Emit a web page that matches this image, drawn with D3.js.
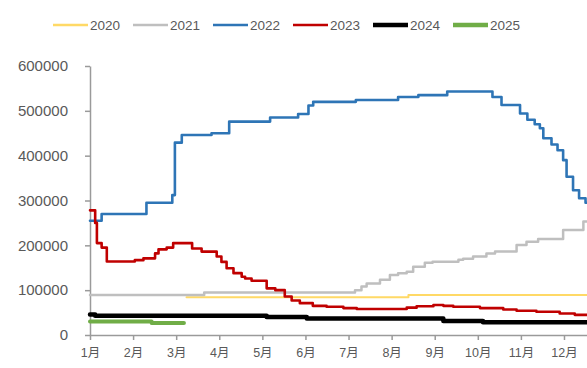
<!DOCTYPE html>
<html>
<head>
<meta charset="utf-8">
<script src="https://cdn.jsdelivr.net/npm/d3@7"></script>
<style>
  html, body { margin: 0; padding: 0; background: #fff; }
  svg { display: block; }
  text { font-family: "Liberation Sans", Arial, "Noto Sans CJK SC", sans-serif; }
</style>
</head>
<body>
<svg id="chart" width="587" height="368"></svg>
<script>
// ---- data (month index 0 = 1月, value) ----
const years = ["2020", "2021", "2022", "2023", "2024", "2025"];
const monthLabels = ["1月","2月","3月","4月","5月","6月","7月","8月","9月","10月","11月","12月"];
const yTicks = [0, 100000, 200000, 300000, 400000, 500000, 600000];

const s2020 = [[2.24,84000],[7.39,89000],[11.7,89000]];
const s2021 = [[0,89000],[2.65,95000],[6.15,100000],[6.3,108000],[6.42,115000],[6.73,123000],[6.96,134000],
  [7.15,138000],[7.35,141000],[7.5,152000],[7.77,161000],[7.95,163500],[8.55,168000],[8.66,170000],
  [8.89,175000],[9.2,182000],[9.4,186000],[9.9,201000],[10.13,208000],[10.4,214000],[10.98,234000],
  [11.45,253000],[11.7,253000]];
const s2022 = [[0,255000],[0.27,270000],[1.31,295000],[1.91,312000],[1.97,429000],[2.13,446000],[2.82,450000],
  [3.23,476000],[4.18,485000],[4.83,493000],[5.07,512000],[5.18,520000],[6.17,524000],[7.15,531000],
  [7.62,535000],[8.29,543000],[9.34,531000],[9.55,513000],[9.98,494000],[10.15,480000],[10.32,470000],
  [10.44,461000],[10.52,439000],[10.71,425000],[10.85,412000],[10.98,390000],[11.06,353000],[11.21,323000],
  [11.35,305000],[11.5,295000],[11.7,290000]];
const s2023 = [[0,278000],[0.12,250000],[0.16,205000],[0.27,195000],[0.39,164000],[1.04,167000],[1.24,171000],
  [1.51,182000],[1.59,191000],[1.78,195000],[1.93,205000],[2.37,193000],[2.59,186000],[2.94,175000],
  [3.05,163000],[3.17,149000],[3.33,138000],[3.52,130000],[3.6,126000],[3.75,121000],[4.1,104000],
  [4.3,100000],[4.52,86000],[4.68,77000],[4.87,71000],[5.17,65000],[5.49,63000],[5.88,60000],[6.19,58000],
  [7.35,61000],[7.58,64000],[7.97,67000],[8.2,65000],[8.43,63000],[9.05,60000],[9.59,57000],[9.9,54000],
  [10.36,52000],[10.9,48000],[11.25,45000],[11.7,43000]];
const s2024 = [[0,46000],[0.12,43000],[4.1,40000],[5.03,37000],[8.2,31000],[9.12,28500],[11.7,28500]];
const s2025 = [[0,30000],[1.43,26500],[2.18,26500]];

const seriesData = [s2020, s2021, s2022, s2023, s2024, s2025];
const colors = ["#FFD966", "#BFBFBF", "#2E75B6", "#C00000", "#000000", "#70AD47"];
const widths = [2, 2.5, 2.6, 2.6, 4.5, 4];

// ---- chart ----
const svg = d3.select("#chart");
const x = d3.scaleLinear().domain([0, 12]).range([90, 90 + 43.09 * 12]);
const y = d3.scaleLinear().domain([0, 600000]).range([335, 66]);

const axisColor = "#9a9a9a", textColor = "#595959";

// y axis
const yAxis = svg.append("g").attr("transform", "translate(90,0)")
  .call(d3.axisLeft(y).tickValues(yTicks).tickSize(5).tickSizeOuter(0).tickPadding(17).tickFormat(d3.format("d")));
yAxis.selectAll("line").attr("stroke", axisColor).attr("stroke-width", 1.5);
yAxis.select(".domain").attr("stroke", axisColor).attr("stroke-width", 1.5);
yAxis.selectAll("text").attr("fill", textColor).style("font-size", "15px");

// x axis
const xAxis = svg.append("g").attr("transform", "translate(0,335)")
  .call(d3.axisBottom(x).tickValues(d3.range(12)).tickSize(5).tickSizeOuter(0).tickPadding(8)
    .tickFormat(i => monthLabels[i]));
xAxis.selectAll("line").attr("stroke", axisColor).attr("stroke-width", 1.5);
xAxis.select(".domain").attr("stroke", axisColor).attr("stroke-width", 1.5);
xAxis.selectAll("text").attr("fill", textColor).style("font-size", "12.5px");

// lines
const line = d3.line().x(d => x(d[0])).y(d => y(d[1])).curve(d3.curveStepAfter);
seriesData.forEach((s, i) => {
  svg.append("path").datum(s)
    .attr("d", line)
    .attr("fill", "none")
    .attr("stroke", colors[i])
    .attr("stroke-width", widths[i])
    .attr("stroke-linejoin", "round")
    .attr("stroke-linecap", "round");
});

// legend
const legend = svg.append("g");
years.forEach((yr, i) => {
  const x0 = 53 + 80 * i;
  legend.append("line").attr("x1", x0).attr("x2", x0 + 35).attr("y1", 25).attr("y2", 25)
    .attr("stroke", colors[i]).attr("stroke-width", i >= 4 ? 4.5 : 2.5);
  legend.append("text").attr("x", x0 + 37).attr("y", 25).attr("dy", "0.35em")
    .attr("fill", textColor).style("font-size", "13.5px").text(yr);
});
</script>
</body>
</html>
